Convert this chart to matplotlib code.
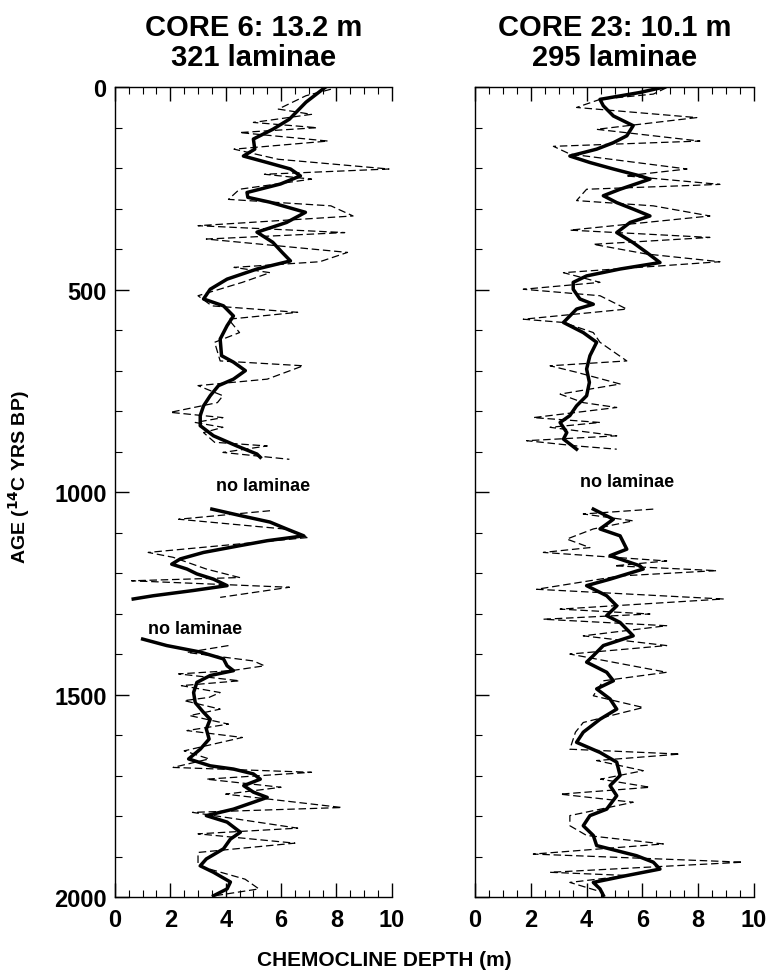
import matplotlib
matplotlib.use("Agg")
import matplotlib.pyplot as plt
from matplotlib.ticker import MultipleLocator
import numpy as np

# ---- data ----
# CORE 6, smoothed (thick) curve, three segments separated by "no laminae" gaps
c6_age_1 = [0, 37, 79, 104, 128, 153, 170, 186, 202, 219, 239, 260, 272, 284, 309, 334, 358,
            383, 408, 429, 449, 474, 499, 523, 540, 565, 589, 622, 663, 679, 700, 721, 737,
            762, 787, 811, 836, 861, 886, 906, 914]
c6_val_1 = [7.6, 6.9, 6.3, 5.7, 5.0, 5.05, 4.64, 5.5, 6.34, 6.7, 5.98, 4.77, 4.8, 5.6, 6.88, 6.2,
            5.13, 5.7, 6.04, 6.34, 5.13, 4.05, 3.44, 3.2, 3.92, 4.28, 4.05, 3.8, 3.85, 4.28, 4.71,
            4.28, 3.74, 3.44, 3.2, 3.08, 3.08, 3.56, 4.4, 5.13, 5.25]
c6_age_2 = [1042, 1058, 1074, 1091, 1108, 1120, 1132, 1149, 1165, 1178, 1190, 1202, 1215, 1231,
            1243, 1256, 1264]
c6_val_2 = [3.5, 4.53, 5.6, 6.2, 6.82, 5.5, 4.53, 3.2, 2.36, 2.05, 2.6, 2.96, 3.56, 4.05, 2.83,
            1.38, 0.66]
c6_age_3 = [1363, 1379, 1395, 1412, 1429, 1441, 1453, 1470, 1495, 1520, 1544, 1561, 1585, 1610,
            1635, 1659, 1676, 1684, 1696, 1709, 1725, 1741, 1754, 1766, 1783, 1799, 1815, 1840,
            1857, 1881, 1906, 1923, 1939, 1963, 1980, 1997]
c6_val_3 = [1.0, 1.87, 3.08, 3.92, 4.05, 4.28, 3.44, 2.96, 2.84, 2.9, 3.2, 3.44, 3.3, 3.4, 3.08,
            2.66, 3.44, 4.28, 5.0, 5.25, 4.65, 5.0, 5.5, 5.0, 4.28, 3.3, 4.05, 4.53, 4.17, 3.92,
            3.3, 3.08, 3.56, 4.17, 4.05, 3.56]

# CORE 6, raw (dashed) curve
c6_raw_age_1 = [5, 21, 54, 67, 87, 100, 112, 133, 153, 178, 202, 215, 227, 252, 277, 293, 318,
                342, 359, 375, 408, 431, 445, 458, 482, 515, 540, 556, 573, 606, 630, 676, 688,
                721, 737, 762, 779, 803, 816, 828, 840, 853, 877, 886, 902, 919]
c6_raw_val_1 = [7.8, 6.9, 5.9, 7.1, 5.0, 7.3, 4.5, 7.7, 4.3, 5.9, 9.9, 5.4, 7.1, 4.5, 4.1, 7.8,
                8.6, 3.0, 8.3, 3.3, 8.4, 7.4, 4.3, 5.6, 4.6, 3.0, 3.5, 6.6, 4.1, 4.5, 3.6, 3.8,
                6.8, 5.5, 3.0, 3.9, 3.7, 2.0, 3.9, 2.9, 3.9, 3.2, 3.6, 5.5, 3.9, 6.3]
c6_raw_age_2 = [1046, 1067, 1091, 1112, 1149, 1161, 1190, 1211, 1219, 1235, 1260]
c6_raw_val_2 = [5.6, 2.3, 6.1, 7.0, 1.2, 2.1, 3.3, 4.5, 0.6, 6.3, 3.8]
c6_raw_age_3 = [1379, 1396, 1417, 1429, 1441, 1449, 1466, 1478, 1495, 1507, 1515, 1536, 1552,
                1573, 1589, 1606, 1639, 1659, 1680, 1692, 1709, 1729, 1746, 1779, 1791, 1830,
                1844, 1867, 1890, 1923, 1956, 1980, 1997]
c6_raw_val_3 = [4.1, 2.6, 5.0, 5.4, 4.2, 2.3, 4.5, 2.4, 3.8, 3.4, 2.5, 3.8, 2.7, 4.1, 2.6, 4.6,
                2.5, 3.4, 2.1, 7.1, 3.3, 6.0, 4.0, 8.2, 2.8, 6.6, 3.0, 6.5, 3.0, 3.0, 4.7, 5.2,
                3.6]

# CORE 23, smoothed (thick) curve, two segments
c23_age_1 = [0, 13, 30, 46, 71, 95, 120, 137, 153, 170, 186, 202, 219, 227, 252, 268, 285, 301,
             318, 334, 359, 384, 408, 433, 449, 466, 482, 499, 523, 536, 548, 581, 606, 630,
             663, 696, 729, 762, 787, 811, 828, 853, 869, 894]
c23_val_1 = [6.75, 5.91, 4.48, 4.6, 4.96, 5.67, 5.44, 4.96, 4.36, 3.4, 4.12, 4.96, 5.91, 6.27,
             5.2, 4.6, 5.08, 5.67, 6.27, 5.56, 5.08, 5.67, 6.15, 6.63, 5.2, 4.0, 3.52, 3.52, 3.76,
             4.24, 3.64, 3.17, 3.88, 4.36, 4.12, 4.0, 4.1, 4.0, 3.64, 3.4, 3.05, 3.29, 3.17, 3.64]
c23_age_2 = [1042, 1067, 1091, 1108, 1141, 1157, 1182, 1190, 1215, 1231, 1256, 1281, 1305, 1322,
             1355, 1379, 1404, 1420, 1445, 1466, 1486, 1511, 1536, 1561, 1593, 1618, 1643, 1667,
             1700, 1725, 1750, 1783, 1799, 1824, 1848, 1873, 1898, 1914, 1931, 1947, 1964, 1980,
             1996]
c23_val_2 = [4.24, 4.96, 4.48, 5.2, 5.44, 4.84, 5.91, 6.03, 4.84, 4.0, 4.72, 5.08, 4.72, 5.2,
             5.67, 4.6, 4.24, 4.0, 4.72, 4.96, 4.36, 4.84, 5.08, 4.48, 3.88, 3.64, 4.48, 5.08, 5.2,
             4.84, 5.08, 4.72, 4.12, 3.88, 4.24, 4.36, 5.79, 6.39, 6.63, 5.44, 4.24, 4.48, 4.6]

# CORE 23, raw (dashed) curve
c23_raw_age_1 = [1, 17, 30, 50, 75, 104, 133, 146, 165, 202, 219, 240, 252, 280, 293, 318, 353,
                 371, 388, 412, 431, 458, 482, 499, 515, 548, 573, 581, 606, 630, 676, 688, 704,
                 733, 758, 779, 791, 816, 828, 840, 861, 873, 886, 894]
c23_raw_val_1 = [6.87, 6.39, 4.48, 3.64, 7.95, 4.36, 8.06, 2.81, 3.4, 7.6, 5.4, 8.78, 4.0, 3.64,
                 6.39, 8.42, 3.4, 8.42, 4.24, 6.15, 8.78, 3.17, 4.48, 1.73, 4.48, 5.44, 1.73,
                 3.17, 4.24, 4.48, 5.44, 2.69, 3.64, 5.2, 3.05, 3.88, 5.08, 2.09, 4.48, 2.69,
                 5.08, 1.85, 3.64, 5.08]
c23_raw_age_2 = [1042, 1054, 1071, 1091, 1116, 1137, 1149, 1170, 1182, 1194, 1207, 1240, 1264,
                 1289, 1301, 1314, 1330, 1355, 1379, 1400, 1445, 1466, 1503, 1532, 1569, 1593,
                 1635, 1647, 1663, 1688, 1709, 1729, 1746, 1766, 1799, 1824, 1848, 1869, 1894,
                 1914, 1939, 1947, 1964, 1989]
c23_raw_val_2 = [6.39, 3.88, 5.67, 4.24, 3.29, 4.12, 2.45, 6.87, 5.0, 8.66, 5.2, 2.21, 8.9, 3.05,
                 6.27, 2.45, 6.87, 3.88, 6.87, 3.4, 6.87, 4.6, 4.24, 6.03, 3.88, 3.6, 3.4, 7.35,
                 4.36, 6.03, 4.5, 6.27, 3.05, 5.67, 3.4, 3.4, 4.0, 6.75, 2.09, 9.6, 2.69, 5.5,
                 3.4, 4.6]

titles = ["CORE 6: 13.2 m\n321 laminae", "CORE 23: 10.1 m\n295 laminae"]
x_ticks = [0, 2, 4, 6, 8, 10]
y_ticks = [0, 500, 1000, 1500, 2000]

plt.rcParams["font.family"] = ["Liberation Sans Narrow", "Liberation Sans", "DejaVu Sans"]
plt.rcParams["font.weight"] = "bold"

fig = plt.figure(figsize=(7.69, 9.78), dpi=100)
ax1 = fig.add_axes([0.1495, 0.0818, 0.360, 0.828])
ax2 = fig.add_axes([0.6177, 0.0818, 0.3628, 0.828])

thick = dict(color="black", lw=2.5, solid_joinstyle="round")
thin = dict(color="black", lw=0.9, dashes=(6, 3))

for a, v in [(c6_raw_age_1, c6_raw_val_1), (c6_raw_age_2, c6_raw_val_2), (c6_raw_age_3, c6_raw_val_3)]:
    ax1.plot(v, a, **thin)
for a, v in [(c6_age_1, c6_val_1), (c6_age_2, c6_val_2), (c6_age_3, c6_val_3)]:
    ax1.plot(v, a, **thick)
for a, v in [(c23_raw_age_1, c23_raw_val_1), (c23_raw_age_2, c23_raw_val_2)]:
    ax2.plot(v, a, **thin)
for a, v in [(c23_age_1, c23_val_1), (c23_age_2, c23_val_2)]:
    ax2.plot(v, a, **thick)

ax1.text(5.35, 983, "no laminae", ha="center", va="center", fontsize=13, fontweight="bold")
ax1.text(2.9, 1336, "no laminae", ha="center", va="center", fontsize=13, fontweight="bold")
ax2.text(5.45, 973, "no laminae", ha="center", va="center", fontsize=13, fontweight="bold")

for i, ax in enumerate([ax1, ax2]):
    ax.set_xlim(0, 10)
    ax.set_ylim(2000, 0)
    ax.spines["right"].set_visible(False)
    for s in ["left", "top", "bottom"]:
        ax.spines[s].set_linewidth(1.0)
    ax.set_xticks(x_ticks)
    ax.xaxis.set_minor_locator(MultipleLocator(0.5))
    ax.set_yticks(y_ticks)
    ax.yaxis.set_minor_locator(MultipleLocator(100))
    ax.tick_params(axis="x", which="both", direction="in", top=True, bottom=True, pad=8,
                   labelsize=17)
    ax.tick_params(axis="y", which="both", direction="in", left=True, right=False, pad=6,
                   labelsize=17)
    ax.tick_params(which="major", length=10, width=1.0)
    ax.tick_params(which="minor", length=5, width=0.8)
    ax.set_title(titles[i], fontsize=21, fontweight="bold", pad=16, linespacing=1.1)
    if i == 1:
        ax.tick_params(axis="y", labelleft=False)

ax1.set_ylabel("AGE ($\\mathbf{^{14}}$C YRS BP)", fontsize=14, fontweight="bold")
ax1.yaxis.set_label_coords(-0.30, 0.52)
fig.text(0.5, 0.018, "CHEMOCLINE DEPTH (m)", ha="center", va="center", fontsize=15,
         fontweight="bold")

fig.savefig("out.png", dpi=100)
